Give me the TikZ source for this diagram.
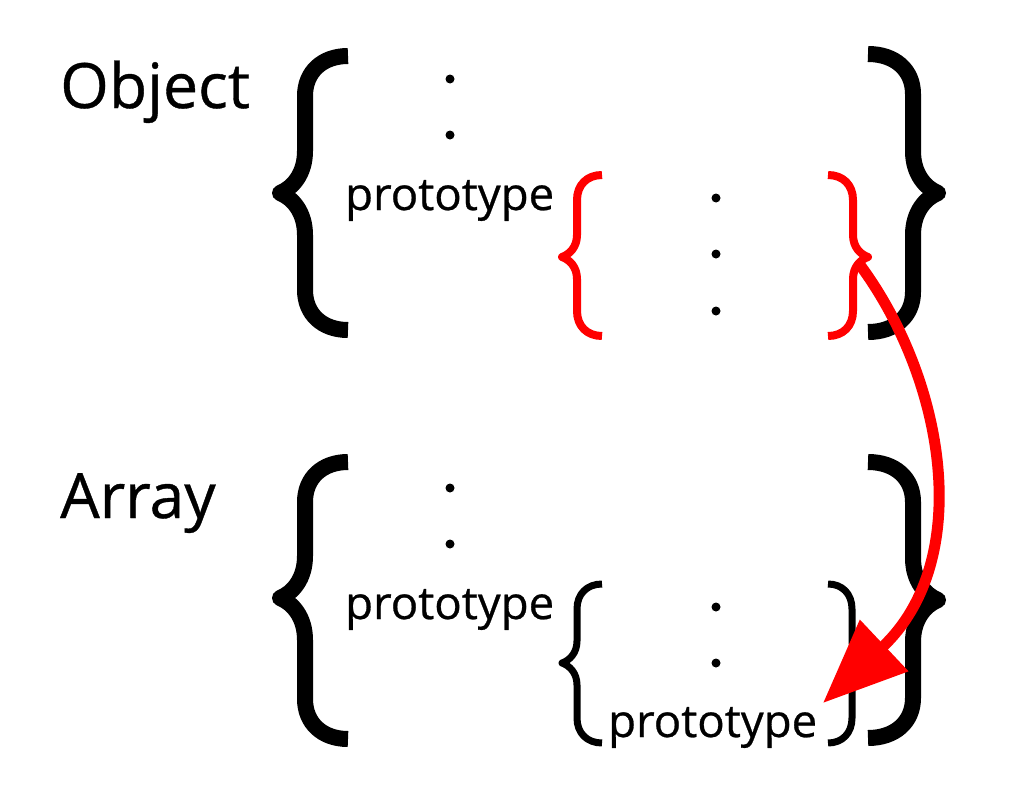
\documentclass[tikz,border=0pt]{standalone}
\usepackage{fontspec}
\setmainfont{Open Sans}
\newfontfamily\labelfont{Open Sans}[FakeBold=0.6]
\usetikzlibrary{arrows.meta}
% #1 style, #2 x end, #3 x vertical, #4 x tip, #5 y top, #6 y tip, #7 y bottom, #8 top radius, #9 tip radius
\newcommand\mybrace[9]{%
\draw[#1] (#2,#5) .. controls ({#3+0.4*(#2-#3)},#5) and (#3,{#5+0.4*#8}) .. (#3,{#5+#8})
 -- (#3,{#6-#9}) .. controls (#3,{#6-0.45*#9}) and ({#4+0.5*(#3-#4)},{#6-0.12*#9}) .. (#4,#6)
 .. controls ({#4+0.5*(#3-#4)},{#6+0.12*#9}) and (#3,{#6+0.45*#9}) .. (#3,{#6+#9})
 -- (#3,{#7-#8}) .. controls (#3,{#7-0.4*#8}) and ({#3+0.4*(#2-#3)},#7) .. (#2,#7);}
\tikzset{
  bigbrace/.style={line width=16pt, line join=round, draw=black},
  smallbrace/.style={line width=7pt, line join=round, draw=black},
  redbrace/.style={line width=8pt, line join=round, draw=red},
  biglabel/.style={font=\labelfont\fontsize{62.5}{62.5}\selectfont, anchor=base west, inner sep=0pt},
  protolabel/.style={font=\labelfont\fontsize{45.5}{45.5}\selectfont, anchor=base west, inner sep=0pt},
  dotnode/.style={circle, fill=black, minimum size=9pt, inner sep=0pt},
  redarrow/.style={draw=red, line width=11pt, -{Triangle[length=84pt,width=68pt]}}
}
\begin{document}
\begin{tikzpicture}[x=1pt,y=-1pt]
\useasboundingbox (0,0) rectangle (1012,798);
\fill[white] (0,0) rectangle (1012,798);
% Object
\node[biglabel] (objlbl) at (60,108) {Object};
\mybrace{bigbrace}{348}{305}{280}{56}{193}{330}{40}{42}
\mybrace{bigbrace}{868}{913}{938}{54}{193}{332}{40}{42}
\node[dotnode] (od1) at (450,79) {};
\node[dotnode] (od2) at (450,135) {};
\node[protolabel] (oproto) at (345,210) {prototype};
\mybrace{redbrace}{602}{577}{562}{175}{257}{336}{25}{22}
\mybrace{redbrace}{828}{853}{868}{175}{257}{336}{25}{22}
\node[dotnode] (rd1) at (716,198) {};
\node[dotnode] (rd2) at (716,254) {};
\node[dotnode] (rd3) at (716,311) {};
% Array
\node[biglabel] (arrlbl) at (60,518) {Array};
\mybrace{bigbrace}{348}{305}{280}{462}{598}{739}{40}{42}
\mybrace{bigbrace}{868}{913}{938}{462}{600}{738}{40}{42}
\node[dotnode] (ad1) at (450,488) {};
\node[dotnode] (ad2) at (450,544) {};
\node[protolabel] (aproto) at (345,619) {prototype};
\mybrace{smallbrace}{602}{577}{562}{584}{663}{743}{25}{22}
\mybrace{smallbrace}{828}{852}{867}{584}{663}{743}{25}{22}
\node[dotnode] (bd1) at (716,607) {};
\node[dotnode] (bd2) at (716,663) {};
\node[protolabel] (iproto) at (608,737) {prototype};
% arrow
\coordinate (astart) at (860,265);
\coordinate (aend) at (823,703);
\draw[redarrow] (astart) .. controls (945,380) and (975,560) .. (aend);
\end{tikzpicture}
\end{document}
